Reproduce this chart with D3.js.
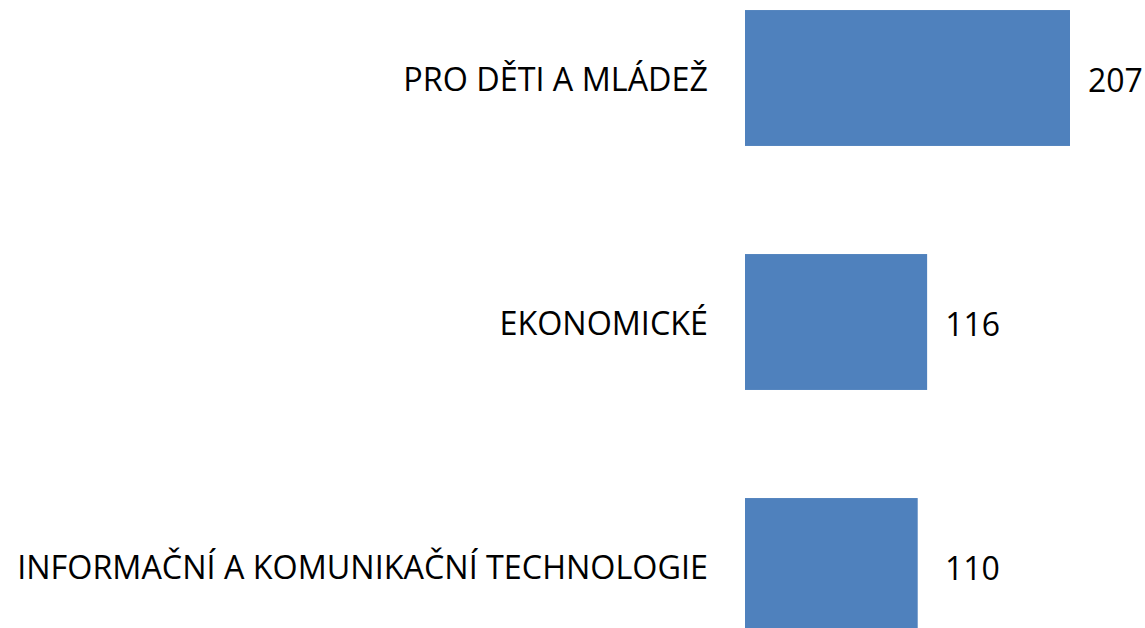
<!DOCTYPE html>
<html>
<head>
<meta charset="utf-8">
<script src="https://cdn.jsdelivr.net/npm/d3@7"></script>
<style>
  body { margin: 0; background: #fff; }
  text { font-family: "Open Sans", sans-serif; fill: #000; }
</style>
</head>
<body>
<div class="container"></div>
<script>
const categories = ["PRO DĚTI A MLÁDEŽ", "EKONOMICKÉ", "INFORMAČNÍ A KOMUNIKAČNÍ TECHNOLOGIE"];
const values = [207, 116, 110];

const w = 1145;
const h = 628;

const svg = d3.select(".container")
  .append("svg")
  .attr("width", w)
  .attr("height", h);

const x = d3.scaleLinear()
  .domain([0, 207])
  .range([745, 1070]);

const y = d3.scaleBand()
  .domain(categories)
  .range([-44, 688])
  .paddingInner(0.443)
  .paddingOuter(0.2215);

svg.selectAll("rect")
  .data(values)
  .enter()
  .append("rect")
  .attr("x", x(0))
  .attr("y", (d, i) => y(categories[i]))
  .attr("width", d => x(d) - x(0))
  .attr("height", y.bandwidth())
  .attr("fill", "#4F81BD");

// category labels, squeezed a bit to look like the narrow original font
const labels = svg.selectAll(".cat")
  .data(categories)
  .enter()
  .append("text")
  .attr("class", "cat")
  .attr("text-anchor", "end")
  .attr("dominant-baseline", "central")
  .style("font-size", "32px")
  .text(d => d);

const longest = d3.max(labels.nodes(), n => n.getComputedTextLength());
const k = 691 / longest;
labels
  .attr("transform", d => `translate(708,${y(d) + y.bandwidth() / 2 + 1}) scale(${k},1)`);

svg.selectAll(".val")
  .data(values)
  .enter()
  .append("text")
  .attr("class", "val")
  .attr("x", d => Math.max(x(d) + 18, 945))
  .attr("y", (d, i) => y(categories[i]) + y.bandwidth() / 2 + 1)
  .attr("dominant-baseline", "central")
  .style("font-size", "32px")
  .text(d => d);
</script>
</body>
</html>
